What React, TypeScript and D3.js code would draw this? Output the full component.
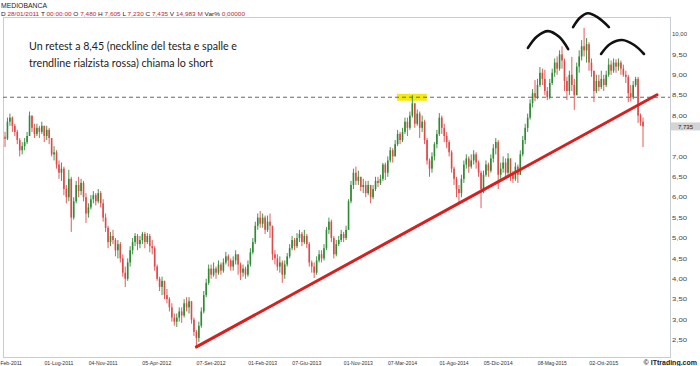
import React from 'react';
import * as d3 from 'd3';

// Weekly bars, first bar 28/01/2011 (open 7.480)
const firstOpen = 7.48;
const closes = [
  7.435,7.85,7.95,7.75,7.6,7.4,7.15,7.25,7.35,7.5,
  8.0,7.7,7.55,7.7,7.6,7.75,7.5,7.65,7.45,7.05,
  7.1,6.8,6.6,6.7,6.2,6.0,6.45,5.5,5.9,6.3,
  6.15,6.35,6.0,5.6,5.75,5.95,6.05,5.9,6.1,5.85,
  5.5,5.25,4.9,5.05,4.95,4.7,4.85,4.5,4.15,4.0,
  4.4,4.7,4.9,5.05,4.85,4.95,5.1,4.9,5.05,4.8,
  4.75,4.3,4.0,3.8,3.95,3.6,3.5,3.3,3.05,2.95,
  3.05,3.2,3.1,3.4,3.3,3.45,3.0,2.7,2.55,2.85,
  3.2,3.6,3.9,4.25,4.1,4.25,4.15,4.35,4.2,4.4,
  4.55,4.45,4.3,4.45,4.6,4.35,4.15,4.25,4.1,4.35,
  4.65,4.9,5.3,5.5,5.35,5.5,5.2,5.4,5.3,4.6,
  4.5,4.3,4.4,4.1,4.35,4.55,4.75,4.95,4.8,5.0,
  5.1,4.9,5.05,4.85,4.4,4.3,4.15,4.45,4.6,4.5,
  4.75,5.2,5.4,5.0,4.6,4.85,4.95,5.1,5.0,5.2,
  5.9,6.3,6.6,6.4,6.5,6.25,6.3,6.1,6.3,6.0,
  6.2,6.4,6.35,6.45,6.8,6.6,6.9,7.15,7.0,7.3,
  7.55,7.4,7.6,7.85,7.7,8.0,8.3,7.8,8.05,7.7,
  7.85,7.4,6.9,6.7,7.0,7.3,7.55,7.95,7.7,7.5,
  7.35,7.1,6.7,6.45,6.2,6.1,6.45,6.8,6.95,6.75,
  6.9,7.05,6.85,6.6,6.2,6.55,6.8,6.65,6.95,7.2,
  7.35,6.55,6.7,6.85,6.6,6.95,6.55,6.45,6.75,6.55,
  7.05,7.4,7.7,7.95,8.3,8.55,8.45,8.75,9.05,8.9,
  8.6,8.45,8.8,9.05,9.3,9.15,9.5,9.35,8.85,8.6,
  9.0,8.75,8.5,9.2,9.45,9.7,9.6,9.75,9.3,9.1,
  8.6,8.85,8.7,8.9,8.75,9.0,9.25,9.1,9.3,9.2,
  9.3,9.15,9.0,8.95,8.55,8.45,8.75,8.9,8.0,7.85,7.735,
];
const highs = [
  7.605,7.95,8.05,7.98,7.8,7.65,7.45,7.35,7.45,7.6,
  8.1,8.0,7.8,7.8,7.75,7.85,7.75,7.75,7.7,7.45,
  7.25,7.15,6.9,6.85,6.75,6.3,6.67,6.5,6.0,6.4,
  6.5,6.45,6.4,6.1,5.85,6.05,6.15,6.1,6.2,6.15,
  5.95,5.6,5.3,5.15,5.2,5.0,4.95,4.9,4.6,4.3,
  4.5,4.8,5.0,5.12,5.1,5.05,5.15,5.15,5.12,5.1,
  4.95,4.8,4.35,4.05,4.05,3.9,3.75,3.55,3.4,3.15,
  3.15,3.3,3.3,3.5,3.55,3.55,3.45,3.05,2.75,2.95,
  3.3,3.7,4.0,4.35,4.35,4.4,4.3,4.45,4.4,4.5,
  4.66,4.6,4.5,4.55,4.7,4.6,4.4,4.35,4.3,4.45,
  4.75,5.0,5.4,5.6,5.66,5.6,5.55,5.55,5.6,5.3,
  4.7,4.6,4.55,4.45,4.45,4.63,4.85,5.05,5.0,5.12,
  5.2,5.15,5.2,5.1,4.9,4.45,4.4,4.55,4.7,4.7,
  4.85,5.27,5.5,5.45,5.05,4.95,5.05,5.2,5.15,5.3,
  5.95,6.4,6.7,6.75,6.65,6.5,6.45,6.4,6.4,6.3,
  6.3,6.5,6.5,6.55,6.84,6.85,7.0,7.23,7.2,7.4,
  7.65,7.6,7.7,7.95,7.95,8.1,8.5,8.3,8.15,8.1,
  8.0,7.9,7.45,6.95,7.1,7.35,7.65,8.06,8.0,7.8,
  7.6,7.4,7.15,6.75,6.5,6.3,6.55,6.9,7.05,7.0,
  7.05,7.15,7.1,6.9,6.65,6.65,6.9,6.85,7.05,7.3,
  7.45,7.4,6.85,7.0,6.95,7.08,6.95,6.65,6.85,6.8,
  7.15,7.5,7.8,8.05,8.4,8.65,8.87,8.9,9.19,9.15,
  9.12,8.7,8.9,9.15,9.4,9.45,9.6,9.7,9.4,8.95,
  9.1,9.44,8.9,9.3,9.6,9.85,10.15,9.9,9.8,9.4,
  9.1,9.0,9.0,9.1,9.0,9.1,9.4,9.35,9.4,9.38,
  9.4,9.35,9.25,9.1,9.0,8.75,8.85,8.95,8.95,8.05,7.95,
];
const lows = [
  7.23,7.4,7.75,7.6,7.5,7.3,7.0,7.05,7.15,7.3,
  7.5,7.6,7.45,7.5,7.45,7.55,7.35,7.4,7.3,7.0,
  6.9,6.7,6.45,6.4,6.05,5.85,5.9,5.15,5.45,5.85,
  6.0,6.05,5.9,5.37,5.5,5.7,5.85,5.8,5.85,5.75,
  5.4,5.15,4.75,4.8,4.85,4.55,4.5,4.4,4.05,3.8,
  3.95,4.3,4.6,4.8,4.7,4.75,4.85,4.75,4.85,4.65,
  4.6,4.2,3.95,3.7,3.6,3.5,3.4,3.2,2.95,2.85,
  2.82,2.95,2.92,3.05,3.2,3.15,2.9,2.6,2.33,2.45,
  2.8,3.15,3.55,3.85,4.0,4.05,4.0,4.1,4.1,4.15,
  4.35,4.3,4.2,4.2,4.35,4.1,3.97,4.05,4.0,4.05,
  4.3,4.6,4.85,5.2,5.25,5.25,5.1,5.15,5.0,4.46,
  4.35,4.2,4.15,3.9,4.0,4.3,4.5,4.7,4.7,4.75,
  4.9,4.8,4.85,4.75,4.3,4.15,4.02,4.1,4.4,4.4,
  4.45,4.7,5.1,4.9,4.5,4.55,4.8,4.9,4.9,4.95,
  5.2,5.85,6.2,6.3,6.3,6.15,6.1,6.0,6.05,5.85,
  5.95,6.15,6.25,6.3,6.4,6.42,6.5,6.85,6.85,7.0,
  7.25,7.3,7.35,7.55,7.5,7.65,7.95,7.7,7.75,7.45,
  7.6,7.3,6.8,6.5,6.6,6.9,7.2,7.5,7.55,7.35,
  7.2,7.0,6.6,6.3,6.0,5.85,6.0,6.35,6.7,6.6,
  6.7,6.8,6.7,6.5,5.73,6.1,6.5,6.5,6.6,6.85,
  7.05,6.2,6.45,6.6,6.5,6.55,6.4,6.35,6.4,6.35,
  6.6,7.0,7.3,7.6,7.9,8.2,8.35,8.4,8.7,8.75,
  8.5,8.38,8.4,8.75,8.95,9.0,9.1,9.15,8.6,8.38,
  8.5,8.6,8.14,8.5,9.05,9.35,9.45,9.3,9.1,8.95,
  8.33,8.55,8.6,8.65,8.6,8.7,8.95,9.0,9.05,9.05,
  9.1,9.0,8.95,8.8,8.33,8.35,8.4,8.7,7.82,7.75,7.23,
];

const yTicks = [2.5, 3, 3.5, 4, 4.5, 5, 5.5, 6, 6.5, 7, 7.5, 8, 8.5, 9, 9.5, 10];
const xTickDates = ['2011-02-04','2011-07-01','2011-11-04','2012-04-05','2012-09-07','2013-02-01','2013-06-07','2013-11-01','2014-03-07','2014-08-01','2014-12-05','2015-05-08','2015-10-02'];
const xTickLabels = ['04-Feb-2011','01-Lug-2011','04-Nov-2011','05-Apr-2012','07-Set-2012','01-Feb-2013','07-Giu-2013','01-Nov-2013','07-Mar-2014','01-Ago-2014','05-Dic-2014','08-Mag-2015','02-Ott-2015'];
const firstBarDate = '2011-01-28';

const neckline = 8.45;
const lastPrice = 7.735;
const highlightIdx = [159.7, 171.9];

// red rising trendline (bar index, price)
const trendIdx = [78, 265.7];
const trendVal = [2.33, 8.51];
// head & shoulders arcs (bar index, price)
const arc1Idx = [213.1, 216.8, 221.3, 225.8, 229.5];
const arc1Val = [9.66, 9.94, 10.07, 9.93, 9.63];
const arc2Idx = [231.5, 234.3, 237.6, 241.7, 246.1];
const arc2Val = [10.17, 10.4, 10.51, 10.4, 10.17];
const arc3Idx = [242.9, 246.6, 251.5, 256.4, 260.4];
const arc3Val = [9.51, 9.755, 9.853, 9.73, 9.51];

const W = 700, H = 366;
const plot = { left: 3, right: 670, top: 17, bottom: 357 };

const fmt = (v: number) => d3.format('.2f')(v).replace('.', ',');

export default function App() {
  const n = closes.length;
  const x = d3.scaleLinear().domain([0, n - 1]).range([5, 643]);
  const y = d3.scaleLinear().domain([2.5, 10]).range([340, 34]);
  const t0 = new Date(firstBarDate + 'T00:00:00Z').getTime();
  const dateIdx = (s: string) => (new Date(s + 'T00:00:00Z').getTime() - t0) / (7 * 864e5);

  const bars = closes.map((c, i) => {
    const o = i === 0 ? firstOpen : closes[i - 1];
    const h = Math.max(highs[i], o, c);
    const l = Math.min(lows[i], o, c);
    return { i, o, h, l, c, up: c >= o };
  });

  const arcLine = d3.line<[number, number]>().x(d => x(d[0])).y(d => y(d[1])).curve(d3.curveCatmullRom.alpha(0.5));
  const arcs = [
    arc1Idx.map((v, k) => [v, arc1Val[k]] as [number, number]),
    arc2Idx.map((v, k) => [v, arc2Val[k]] as [number, number]),
    arc3Idx.map((v, k) => [v, arc3Val[k]] as [number, number]),
  ];

  const green = '#2f8a34';
  const red = '#dc4a4a';
  const font = 'Liberation Sans, Arial, sans-serif';

  return (
    <svg width={W} height={H} style={{ position: 'absolute', left: 0, top: 0, background: '#fff' }} fontFamily={font}>
      <rect x={0} y={0} width={W} height={H} fill="#fff" />
      {/* header */}
      <text x={1} y={7.5} fontSize={7} fill="#222" textLength={46} lengthAdjust="spacingAndGlyphs">MEDIOBANCA</text>
      <text x={1} y={16} fontSize={6} fill="#222" textLength={244} lengthAdjust="spacingAndGlyphs">
        <tspan>D </tspan><tspan fill="#c0282d">28/01/2011</tspan>
        <tspan>{'  T '}</tspan><tspan fill="#c0282d">00:00:00</tspan>
        <tspan>{'  O '}</tspan><tspan fill="#c0282d">7,480</tspan>
        <tspan>{'  H '}</tspan><tspan fill="#c0282d">7,605</tspan>
        <tspan>{'  L '}</tspan><tspan fill="#c0282d">7,230</tspan>
        <tspan>{'  C '}</tspan><tspan fill="#c0282d">7,435</tspan>
        <tspan>{'  V '}</tspan><tspan fill="#c0282d">14,983 M</tspan>
        <tspan>{'  Var% '}</tspan><tspan fill="#c0282d">0,00000</tspan>
      </text>

      {/* plot frame */}
      <rect x={plot.left + 0.5} y={plot.top + 0.5} width={plot.right - plot.left} height={plot.bottom - plot.top} fill="none" stroke="#c9cdd2" strokeWidth={1} />

      {/* neckline highlight */}
      <rect x={x(highlightIdx[0])} y={y(neckline) - 3.5} width={x(highlightIdx[1]) - x(highlightIdx[0])} height={7} fill="#f4ea10" />
      <line x1={plot.left} x2={plot.right} y1={y(neckline)} y2={y(neckline)} stroke="#666" strokeWidth={1} strokeDasharray="4,3" />

      {/* candles */}
      <g>
        {bars.map(b => (
          <g key={b.i}>
            <line x1={x(b.i)} x2={x(b.i)} y1={y(b.h)} y2={y(b.l)} stroke={b.up ? green : red} strokeWidth={0.9} />
            <rect x={x(b.i) - 0.8} width={1.6} y={y(Math.max(b.o, b.c))} height={Math.max(0.8, y(Math.min(b.o, b.c)) - y(Math.max(b.o, b.c)))} fill={b.up ? green : red} />
          </g>
        ))}
      </g>

      {/* trendline */}
      <line x1={x(trendIdx[0])} y1={y(trendVal[0])} x2={x(trendIdx[1])} y2={y(trendVal[1])} stroke="#d81f1f" strokeWidth={3} strokeLinecap="round" />

      {/* head & shoulders arcs */}
      {arcs.map((a, k) => (
        <path key={k} d={arcLine(a) || ''} fill="none" stroke="#111" strokeWidth={2.6} strokeLinecap="round" />
      ))}

      {/* annotation */}
      <text x={29} y={50} fontSize={12} fontFamily="Lato, Open Sans, sans-serif" fill="#222" textLength={208} lengthAdjust="spacingAndGlyphs">Un retest a 8,45 (neckline del testa e spalle e</text>
      <text x={29} y={66.5} fontSize={12} fontFamily="Lato, Open Sans, sans-serif" fill="#222" textLength={184} lengthAdjust="spacingAndGlyphs">trendline rialzista rossa) chiama lo short</text>

      {/* right axis */}
      {yTicks.filter(v => v !== 7.5).map(v => (
        <text key={v} x={672} y={y(v) + 2.2} fontSize={6} fill="#444" textLength={15} lengthAdjust="spacingAndGlyphs">{fmt(v)}</text>
      ))}
      <rect x={671} y={y(lastPrice) - 4} width={29} height={8} fill="#d4d4d4" />
      <text x={678} y={y(lastPrice) + 2.2} fontSize={6} fill="#222">{d3.format('.3f')(lastPrice).replace('.', ',')}</text>

      {/* x axis labels */}
      {xTickDates.map((d, k) => (
        <text key={d} x={x(dateIdx(d))} y={364.5} fontSize={6} fill="#333" textAnchor="middle" textLength={29} lengthAdjust="spacingAndGlyphs">{xTickLabels[k]}</text>
      ))}
      <text x={697} y={364.5} fontSize={7} fontWeight="bold" fill="#222" textAnchor="end">© ITtrading.com</text>
    </svg>
  );
}
